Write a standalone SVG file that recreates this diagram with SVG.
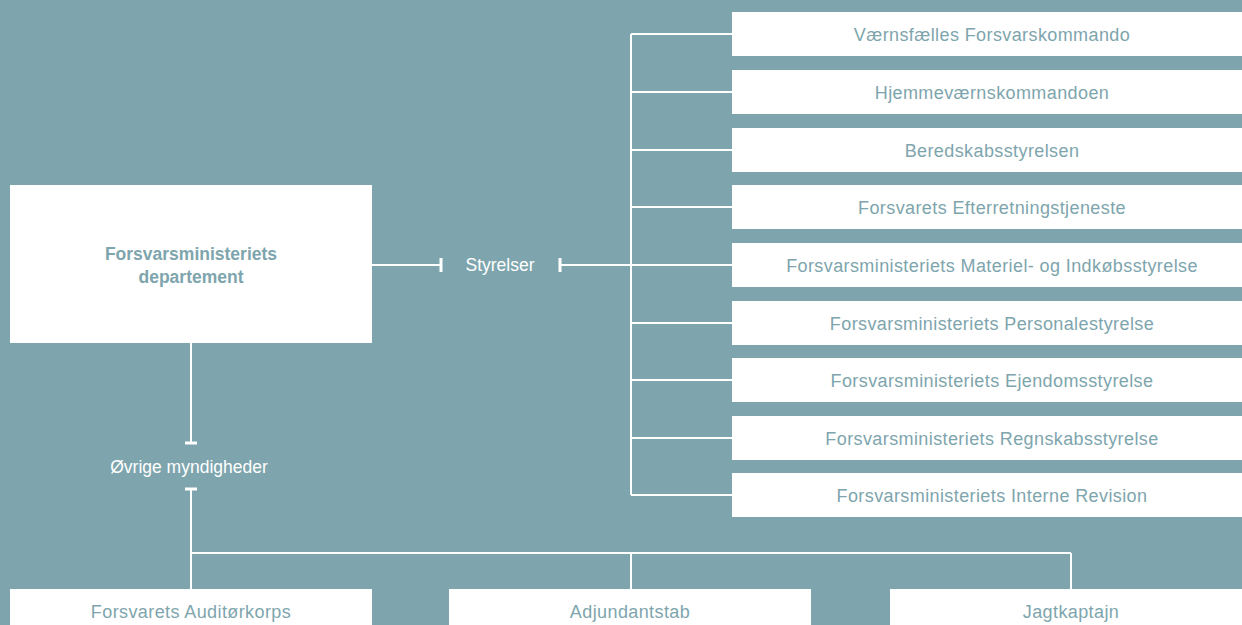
<svg xmlns="http://www.w3.org/2000/svg" width="1242" height="625" viewBox="0 0 1242 625">
<style>
.box{fill:#ffffff}
.t{font-family:"Liberation Sans",Arial,sans-serif;font-size:18px;letter-spacing:0.4px;fill:#7ea5ad;text-anchor:middle}
.tb{font-family:"Liberation Sans",Arial,sans-serif;font-size:17.5px;font-weight:bold;fill:#7ea5ad;text-anchor:middle}
.tw{font-family:"Liberation Sans",Arial,sans-serif;font-size:17.5px;fill:#ffffff;text-anchor:middle}
.ln{stroke:#ffffff;stroke-width:2;fill:none}
.tk{stroke:#ffffff;stroke-width:3;fill:none}
</style>
<rect x="0" y="0" width="1242" height="625" fill="#7ea5ad"/>
<g id="connectors">
<path class="ln" d="M372 265H441M560 265H631M631 34V495"/>
<path class="tk" d="M441 258V272M560 258V272"/>
<path class="ln" d="M631 34H732M631 92H732M631 150H732M631 207H732M631 265H732M631 323H732M631 380H732M631 438H732M631 495H732"/>
<path class="ln" d="M191 343V443M191 489V589M191 553H1071M631 553V589M1071 553V589"/>
<path class="tk" d="M185 443H197M185 489H197"/>
</g>
<g id="dept">
<rect class="box" x="10" y="185" width="362" height="158"/>
<text class="tb" x="191" y="260">Forsvarsministeriets</text>
<text class="tb" x="191" y="283">departement</text>
</g>
<g id="styrelser"><text class="tw" x="500" y="271">Styrelser</text></g>
<g id="ovrige"><text class="tw" x="189" y="473">Øvrige myndigheder</text></g>
<g id="n1"><rect class="box" x="732" y="12" width="510" height="44"/><text class="t" x="992" y="40.5">Værnsfælles Forsvarskommando</text></g>
<g id="n2"><rect class="box" x="732" y="70" width="510" height="44"/><text class="t" x="992" y="98.5">Hjemmeværnskommandoen</text></g>
<g id="n3"><rect class="box" x="732" y="128" width="510" height="44"/><text class="t" x="992" y="156.5">Beredskabsstyrelsen</text></g>
<g id="n4"><rect class="box" x="732" y="185" width="510" height="44"/><text class="t" x="992" y="213.5">Forsvarets Efterretningstjeneste</text></g>
<g id="n5"><rect class="box" x="732" y="243" width="510" height="44"/><text class="t" x="992" y="271.5">Forsvarsministeriets Materiel- og Indkøbsstyrelse</text></g>
<g id="n6"><rect class="box" x="732" y="301" width="510" height="44"/><text class="t" x="992" y="329.5">Forsvarsministeriets Personalestyrelse</text></g>
<g id="n7"><rect class="box" x="732" y="358" width="510" height="44"/><text class="t" x="992" y="386.5">Forsvarsministeriets Ejendomsstyrelse</text></g>
<g id="n8"><rect class="box" x="732" y="416" width="510" height="44"/><text class="t" x="992" y="444.5">Forsvarsministeriets Regnskabsstyrelse</text></g>
<g id="n9"><rect class="box" x="732" y="473" width="510" height="44"/><text class="t" x="992" y="501.5">Forsvarsministeriets Interne Revision</text></g>
<g id="b1"><rect class="box" x="10" y="589" width="362" height="40"/><text class="t" x="191" y="617.5">Forsvarets Auditørkorps</text></g>
<g id="b2"><rect class="box" x="449" y="589" width="362" height="40"/><text class="t" x="630" y="617.5">Adjundantstab</text></g>
<g id="b3"><rect class="box" x="890" y="589" width="352" height="40"/><text class="t" x="1071" y="617.5">Jagtkaptajn</text></g>
</svg>
